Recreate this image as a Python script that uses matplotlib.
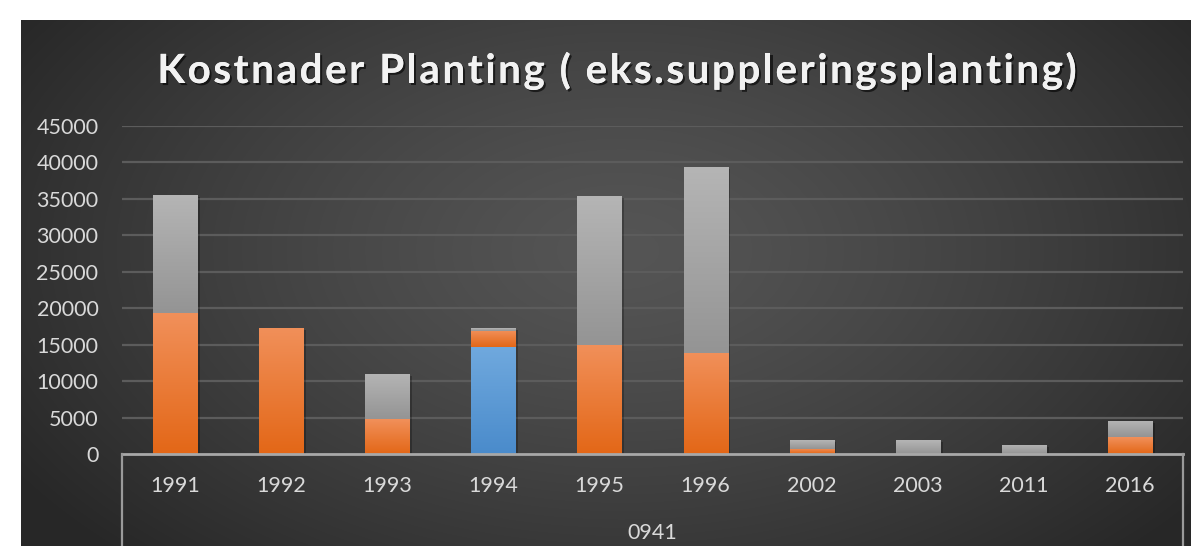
import numpy as np
import matplotlib
matplotlib.use("Agg")
import matplotlib.pyplot as plt
import matplotlib.patheffects as pe
from matplotlib.lines import Line2D

# ---- data ----
years = ["1991", "1992", "1993", "1994", "1995", "1996", "2002", "2003", "2011", "2016"]
group_label = "0941"
blue_vals = [0, 0, 0, 14700, 0, 0, 0, 0, 0, 0]
orange_vals = [19300, 17300, 4800, 2200, 15000, 13900, 700, 0, 0, 2300]
gray_vals = [16200, 0, 6200, 400, 20400, 25500, 1200, 1900, 1300, 2200]
yticks = [0, 5000, 10000, 15000, 20000, 25000, 30000, 35000, 40000, 45000]
title = "Kostnader Planting ( eks.suppleringsplanting)"

W, H = 1191, 546
fig = plt.figure(figsize=(W / 100, H / 100), dpi=100, facecolor="white")

# ---- dark radial-gradient background ----
bx0, by0 = 21, 20
bg = fig.add_axes([bx0 / W, 0, 1 - bx0 / W, (H - by0) / H])
bg.set_axis_off()
gw, gh = W - bx0, H - by0
xx, yy = np.meshgrid(np.arange(gw), np.arange(gh))
cx, cy = 600, 230
r = np.sqrt(((xx - cx) / 720.0) ** 2 + ((yy - cy) / 430.0) ** 2)
r = np.clip(r, 0, 1)
inner, outer = 0x55 / 255, 0x27 / 255
val = inner + (outer - inner) * r ** 1.3
img = np.dstack([val, val, val])
bg.imshow(img, aspect="auto", extent=(0, 1, 0, 1), origin="upper")
bg.set_xlim(0, 1)
bg.set_ylim(0, 1)

# ---- main axes ----
left, right, y0px, ytop = 122, 1183, 454, 126
ax = fig.add_axes([left / W, (H - y0px) / H, (right - left) / W, (y0px - ytop) / H])
ax.patch.set_alpha(0)
n = len(years)
x = np.arange(n)
ax.set_xlim(-0.5, n - 0.5)
ax.set_ylim(0, 45000)

font = "Lato"
txtcol = "#d9d9d9"
ax.set_yticks(yticks)
ax.set_yticklabels([str(t) for t in yticks], fontsize=15.5, color=txtcol, family=font)
ax.tick_params(axis="y", length=0, pad=17)
ax.set_xticks([])
for s in ["top", "right", "left", "bottom"]:
    ax.spines[s].set_visible(False)
for t in yticks[1:]:
    ax.axhline(t, color="#5c5c5c", lw=1.6, zorder=0.5)

shadow = [pe.withSimplePatchShadow(offset=(2, -1.5), shadow_rgbFace="black", alpha=0.25), pe.Normal()]

def gradient_bars(vals, bottom, top_col, bot_col):
    bars = ax.bar(x, vals, width=0.415, bottom=bottom, color=bot_col, linewidth=0, zorder=2)
    grad = np.linspace(0, 1, 256)[:, None]
    c0 = np.array(matplotlib.colors.to_rgb(top_col))
    c1 = np.array(matplotlib.colors.to_rgb(bot_col))
    im_arr = c0[None, None, :] * (1 - grad[..., None]) + c1[None, None, :] * grad[..., None]
    for b in bars:
        h = b.get_height()
        if h <= 0:
            b.set_visible(False)
            continue
        b.set_path_effects(shadow)
        bx, by, bw = b.get_x(), b.get_y(), b.get_width()
        im = ax.imshow(im_arr, extent=(bx, bx + bw, by, by + h), aspect="auto",
                       origin="upper", zorder=3)
        im.set_clip_path(b)
    return bars

bottom = np.zeros(n)
gradient_bars(blue_vals, bottom, "#70a9de", "#4a8bcb")
bottom = bottom + np.array(blue_vals)
gradient_bars(orange_vals, bottom, "#f1905a", "#e36717")
bottom = bottom + np.array(orange_vals)
gradient_bars(gray_vals, bottom, "#b5b5b5", "#949494")
ax.set_ylim(0, 45000)
ax.set_xlim(-0.5, n - 0.5)

# ---- category axis box ----
boxcol = "#9a9a9a"
ax.add_line(Line2D([-0.5, n - 0.5], [0, 0], color="#a8a8a8", lw=2.0, zorder=4, clip_on=False))
for xe in (-0.5, n - 0.5):
    ax.add_line(Line2D([xe, xe], [0, -20000], color=boxcol, lw=1.6, zorder=4, clip_on=False))

ylab = -(486 - y0px) / (y0px - ytop)
for i, yr in enumerate(years):
    ax.text(i, ylab, yr, transform=ax.get_xaxis_transform(), ha="center", va="center",
            fontsize=15.5, color=txtcol, family=font)
ax.text((n - 1) / 2, -(533 - y0px) / (y0px - ytop), group_label,
        transform=ax.get_xaxis_transform(), ha="center", va="center",
        fontsize=15.5, color=txtcol, family=font)

# ---- title with letter spacing ----
renderer = fig.canvas.get_renderer()
tkw = dict(fontsize=29, fontweight="bold", family=font)
spacing = 2.6  # extra px between characters

def text_width(s):
    if not s:
        return 0.0
    t = fig.text(0, 0, s.replace(" ", "\u00a0"), **tkw)
    w = t.get_window_extent(renderer).width
    t.remove()
    return w

offsets = [text_width(title[:i]) + i * spacing for i in range(len(title))]
total = text_width(title) + (len(title) - 1) * spacing
x_start = 617 - total / 2
title_fx = [pe.withSimplePatchShadow(offset=(1.5, -1.5), shadow_rgbFace="black", alpha=0.6), pe.Normal()]
for ch, off in zip(title, offsets):
    if ch == " ":
        continue
    fig.text((x_start + off) / W, 1 - 68 / H, ch, ha="left", va="center_baseline",
             color="#f2f2f2", path_effects=title_fx, **tkw)

fig.savefig("out.png", dpi=100, facecolor="white")
